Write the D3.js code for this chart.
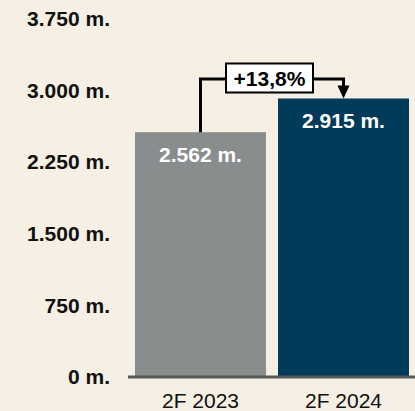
<!DOCTYPE html>
<html>
<head>
<meta charset="utf-8">
<script src="https://cdn.jsdelivr.net/npm/d3@7/dist/d3.min.js"></script>
<style>
  html, body { margin: 0; padding: 0; background: #F5EFE4; }
  svg { display: block; font-family: "Liberation Sans", Arial, Helvetica, sans-serif; }
</style>
</head>
<body>
<svg id="chart" width="415" height="411"></svg>
<script>
const categories = ["2F 2023", "2F 2024"];
const values = [2562, 2915];
const valueLabels = ["2.562 m.", "2.915 m."];
const barColors = ["#898D8D", "#023A5A"];
const tickValues = [0, 750, 1500, 2250, 3000, 3750];
const tickLabels = ["0 m.", "750 m.", "1.500 m.", "2.250 m.", "3.000 m.", "3.750 m."];
const changeLabel = "+13,8%";

const svg = d3.select("#chart");

const y = d3.scaleLinear().domain([0, 3750]).range([377, 18.7]);
const x = d3.scaleBand().domain(categories).range([128, 416])
  .paddingInner(0.084).paddingOuter(0.049);

// y tick labels (no axis line)
const yAxis = d3.axisLeft(y).tickValues(tickValues)
  .tickFormat((d, i) => tickLabels[i]).tickSize(0).tickPadding(0);
const yg = svg.append("g").attr("transform", "translate(110,0)").call(yAxis);
yg.select(".domain").remove();
yg.selectAll("text").attr("font-size", 21).attr("font-weight", "bold")
  .attr("fill", "#111").attr("font-family", "Liberation Sans, Arial, sans-serif");

// bars
svg.selectAll("rect.bar").data(values).enter().append("rect")
  .attr("class", "bar")
  .attr("x", (d, i) => x(categories[i]))
  .attr("width", x.bandwidth())
  .attr("y", d => y(d))
  .attr("height", d => y(0) - y(d))
  .attr("fill", (d, i) => barColors[i]);

// value labels
svg.selectAll("text.val").data(values).enter().append("text")
  .attr("class", "val")
  .attr("x", (d, i) => x(categories[i]) + x.bandwidth() / 2)
  .attr("y", d => y(d) + 29.5)
  .attr("text-anchor", "middle")
  .attr("font-size", 21).attr("font-weight", "bold").attr("fill", "#fff")
  .text((d, i) => valueLabels[i]);

// x axis
const xAxis = d3.axisBottom(x).tickSize(0).tickPadding(16);
const xg = svg.append("g").attr("transform", `translate(0,${y(0)})`).call(xAxis);
xg.select(".domain").attr("stroke", "#595959").attr("stroke-width", 3)
  .attr("d", `M128,0H415`);
xg.selectAll("text").attr("font-size", 21).attr("fill", "#111")
  .attr("font-family", "Liberation Sans, Arial, sans-serif");

// change annotation
const cx1 = x(categories[0]) + x.bandwidth() / 2;
const cx2 = x(categories[1]) + x.bandwidth() / 2;
const yLine = 79;
const boxX0 = 226, boxX1 = 313, boxY0 = 63.5, boxY1 = 92.5;
const ann = svg.append("g");
ann.append("path")
  .attr("d", `M${cx1},${y(values[0])}V${yLine}H${cx2}V${y(values[1]) - 12}`)
  .attr("fill", "none").attr("stroke", "#000").attr("stroke-width", 3);
ann.append("path")
  .attr("d", `M${cx2 - 6},${y(values[1]) - 13}L${cx2 + 6},${y(values[1]) - 13}L${cx2},${y(values[1])}Z`)
  .attr("fill", "#000");
ann.append("rect")
  .attr("x", boxX0).attr("y", boxY0)
  .attr("width", boxX1 - boxX0).attr("height", boxY1 - boxY0)
  .attr("fill", "#fff").attr("stroke", "#000").attr("stroke-width", 2);
ann.append("text")
  .attr("x", (boxX0 + boxX1) / 2).attr("y", 86)
  .attr("text-anchor", "middle")
  .attr("font-size", 21).attr("font-weight", "bold").attr("fill", "#000")
  .text(changeLabel);
</script>
</body>
</html>
